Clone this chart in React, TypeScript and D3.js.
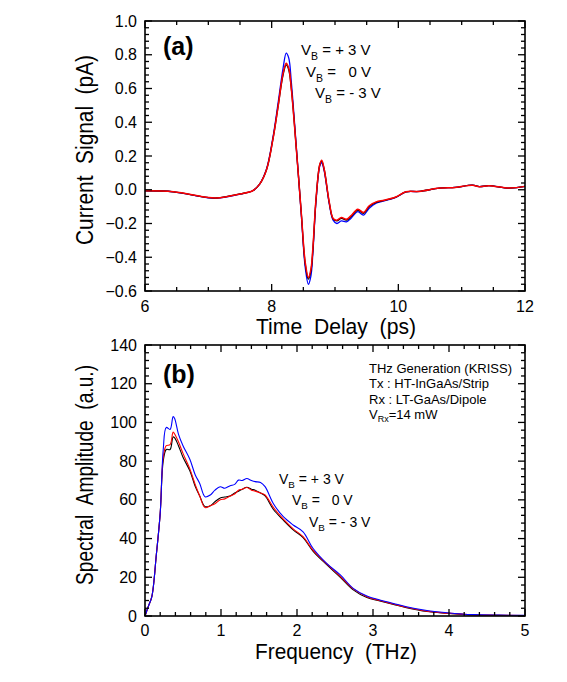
import React from "react";
import * as d3 from "d3";

// ---------- Panel (a): time-domain waveform ----------
const timePs = [6.0, 6.45, 6.97, 7.13, 7.5, 7.7, 7.81, 7.92, 8.02, 8.1, 8.18, 8.23, 8.27, 8.31, 8.39, 8.47, 8.53, 8.58, 8.62, 8.65, 8.7, 8.76, 8.79, 8.83, 8.91, 8.97, 9.03, 9.1, 9.18, 9.25, 9.36, 9.45, 9.54, 9.65, 9.78, 9.96, 10.12, 10.33, 10.65, 10.9, 11.17, 11.28, 11.43, 11.75, 12.0];
const currentPlus3 = [-0.006, -0.012, -0.046, -0.05, -0.026, -0.006, 0.034, 0.125, 0.31, 0.51, 0.72, 0.81, 0.78, 0.64, 0.25, -0.16, -0.46, -0.56, -0.51, -0.38, -0.07, 0.14, 0.16, 0.11, -0.085, -0.18, -0.2, -0.185, -0.19, -0.17, -0.13, -0.15, -0.11, -0.08, -0.066, -0.046, -0.013, -0.01, 0.01, 0.014, 0.027, 0.018, 0.024, 0.01, 0.02];
const current0 = [-0.006, -0.012, -0.045, -0.049, -0.025, -0.006, 0.033, 0.12, 0.3, 0.49, 0.68, 0.74, 0.71, 0.6, 0.24, -0.15, -0.44, -0.53, -0.48, -0.36, -0.06, 0.15, 0.17, 0.12, -0.078, -0.172, -0.185, -0.17, -0.18, -0.16, -0.12, -0.14, -0.1, -0.075, -0.063, -0.044, -0.012, -0.01, 0.01, 0.014, 0.027, 0.018, 0.024, 0.01, 0.02];
const currentMinus3 = [-0.006, -0.012, -0.045, -0.049, -0.025, -0.006, 0.033, 0.12, 0.3, 0.49, 0.69, 0.75, 0.72, 0.6, 0.24, -0.15, -0.43, -0.52, -0.47, -0.35, -0.055, 0.15, 0.175, 0.12, -0.075, -0.17, -0.18, -0.165, -0.175, -0.155, -0.115, -0.135, -0.095, -0.072, -0.062, -0.043, -0.012, -0.01, 0.01, 0.014, 0.027, 0.018, 0.024, 0.01, 0.02];
const timeTicks = [6, 8, 10, 12];
const currentTicks = [1.0, 0.8, 0.6, 0.4, 0.2, 0.0, -0.2, -0.4, -0.6];

// ---------- Panel (b): spectra ----------
const freqTHz = [0, 0.044, 0.09, 0.15, 0.2, 0.24, 0.28, 0.33, 0.37, 0.39, 0.44, 0.5, 0.59, 0.66, 0.72, 0.79, 0.86, 0.92, 0.99, 1.05, 1.12, 1.18, 1.23, 1.28, 1.34, 1.4, 1.45, 1.52, 1.58, 1.69, 1.82, 1.95, 2.08, 2.21, 2.39, 2.57, 2.74, 2.92, 3.09, 3.27, 3.44, 3.71, 3.97, 4.32, 4.65, 5.0];
const ampPlus3 = [0, 5, 10, 32, 53, 86, 97.4, 96.4, 103, 102, 94, 88, 81, 73, 68.5, 61.6, 62.5, 65, 66.8, 66, 67.3, 68, 70.2, 70, 71, 70, 69.4, 69, 66.8, 58, 51.3, 47, 43.5, 35, 27.2, 21.2, 14.3, 10.3, 8.3, 6.5, 4.8, 2.8, 1.7, 0.7, 0.5, 0.3];
const amp0 = [0, 5, 10, 32, 53, 82, 88, 88.5, 95, 94, 90, 84, 76, 68, 62, 56, 57, 58, 60, 60.5, 62, 63, 65, 65.5, 66.4, 65, 64.5, 63.5, 62.5, 56, 50, 45, 41, 34, 27, 20.5, 14, 10, 8, 6.2, 4.5, 2.5, 1.5, 0.6, 0.4, 0.2];
const ampMinus3 = [0, 5, 10, 32, 53, 80, 86, 86, 92.5, 92, 88, 82, 75, 67, 62, 56.5, 57, 59, 61, 61.5, 62, 63.5, 64.5, 65.5, 66.5, 65.5, 65, 63.5, 62, 55, 49.5, 44.5, 40.5, 33.5, 26.5, 20, 13.5, 9.5, 7.8, 6, 4.3, 2.3, 1.4, 0.5, 0.3, 0.2];
const freqTicks = [0, 1, 2, 3, 4, 5];
const ampTicks = [0, 20, 40, 60, 80, 100, 120, 140];

const legendLabels = ["+ 3 V", "  0 V", "- 3 V"];
const infoLines = ["THz Generation (KRISS)", "Tx : HT-InGaAs/Strip", "Rx : LT-GaAs/Dipole"];

const FONT = "'Liberation Sans', Arial, sans-serif";

type FrameProps = {
  x: d3.ScaleLinear<number, number>;
  y: d3.ScaleLinear<number, number>;
  xMinorStep: number;
  yMinorStep: number;
  xMajor: number[];
  yMajor: number[];
  yFmt: (v: number) => string;
  xLabelY: number;
};

function Frame({ x, y, xMinorStep, yMinorStep, xMajor, yMajor, yFmt, xLabelY }: FrameProps) {
  const [x0, x1] = x.domain();
  const [y0, y1] = y.domain();
  const xMinor = d3.range(x0, x1 + 1e-9, xMinorStep);
  const yMinor = d3.range(y0, y1 + 1e-9, yMinorStep);
  const L = x.range()[0], R = x.range()[1], B = y.range()[0], T = y.range()[1];
  const isMajor = (v: number, arr: number[]) => arr.some((a) => Math.abs(a - v) < 1e-6);
  const maj = 7, min = 4;
  return (
    <g>
      {xMinor.map((v, i) => {
        const len = isMajor(v, xMajor) ? maj : min;
        const px = x(v);
        return (
          <g key={"xt" + i}>
            <line x1={px} x2={px} y1={B} y2={B - len} stroke="#000" strokeWidth={1.3} />
            <line x1={px} x2={px} y1={T} y2={T + len} stroke="#000" strokeWidth={1.3} />
          </g>
        );
      })}
      {yMinor.map((v, i) => {
        const len = isMajor(v, yMajor) ? maj : min;
        const py = y(v);
        return (
          <g key={"yt" + i}>
            <line x1={L} x2={L + len} y1={py} y2={py} stroke="#000" strokeWidth={1.3} />
            <line x1={R} x2={R - len} y1={py} y2={py} stroke="#000" strokeWidth={1.3} />
          </g>
        );
      })}
      <rect x={L} y={T} width={R - L} height={B - T} fill="none" stroke="#000" strokeWidth={1.6} />
      {xMajor.map((v) => (
        <text key={"xl" + v} x={x(v)} y={xLabelY} textAnchor="middle" fontSize={16} fontFamily={FONT}>
          {String(v)}
        </text>
      ))}
      {yMajor.map((v) => (
        <text key={"yl" + v} x={L - 8} y={y(v) + 5.5} textAnchor="end" fontSize={16} fontFamily={FONT}>
          {yFmt(v)}
        </text>
      ))}
    </g>
  );
}

function VB({ x, y, label, size }: { x: number; y: number; label: string; size: number }) {
  return (
    <text x={x} y={y} fontSize={size} fontFamily={FONT} style={{ whiteSpace: "pre" }}>
      V
      <tspan fontSize={size * 0.7} dy={size * 0.3}>B</tspan>
      <tspan dy={-size * 0.3}>{" = " + label}</tspan>
    </text>
  );
}

export default function App() {
  const L = 145, R = 525;
  const xa = d3.scaleLinear().domain([6, 12]).range([L, R]);
  const ya = d3.scaleLinear().domain([-0.6, 1.0]).range([291, 21]);
  const xb = d3.scaleLinear().domain([0, 5]).range([L, R]);
  const yb = d3.scaleLinear().domain([0, 140]).range([616, 345]);

  const lineA = (vals: number[]) =>
    d3.line<number>().x((_, i) => xa(timePs[i])).y((d) => ya(d)).curve(d3.curveCatmullRom.alpha(0.5))(vals) || "";
  const lineB = (vals: number[]) =>
    d3.line<number>().x((_, i) => xb(freqTHz[i])).y((d) => yb(d)).curve(d3.curveCatmullRom.alpha(0.5))(vals) || "";

  return (
    <svg width={567} height={682} style={{ position: "absolute", left: 0, top: 0, background: "#fff" }}>
      <rect width={567} height={682} fill="#fff" />
      {/* Panel (a) */}
      <path d={lineA(currentPlus3)} fill="none" stroke="#0000ff" strokeWidth={1.3} />
      <path d={lineA(current0)} fill="none" stroke="#000" strokeWidth={1.3} />
      <path d={lineA(currentMinus3)} fill="none" stroke="#ff0000" strokeWidth={1.5} />
      <Frame x={xa} y={ya} xMinorStep={0.5} yMinorStep={0.04} xMajor={timeTicks} yMajor={currentTicks}
        yFmt={(v) => d3.format(".1f")(v)} xLabelY={312} />
      <text x={163} y={55} fontSize={25} fontWeight="bold" fontFamily={FONT}>(a)</text>
      <VB x={301} y={55} label={legendLabels[0]} size={15} />
      <VB x={306} y={77} label={legendLabels[1]} size={15} />
      <VB x={315} y={98} label={legendLabels[2]} size={15} />
      <text x={336} y={334} textAnchor="middle" fontSize={22} fontFamily={FONT} textLength={160}
        lengthAdjust="spacingAndGlyphs" style={{ whiteSpace: "pre" }}>Time  Delay  (ps)</text>
      <text transform="translate(93,150) rotate(-90)" textAnchor="middle" fontSize={23} fontFamily={FONT}
        textLength={190} lengthAdjust="spacingAndGlyphs" style={{ whiteSpace: "pre" }}>Current  Signal  (pA)</text>

      {/* Panel (b) */}
      <path d={lineB(ampMinus3)} fill="none" stroke="#000" strokeWidth={1.1} />
      <path d={lineB(amp0)} fill="none" stroke="#ff0000" strokeWidth={1.1} />
      <path d={lineB(ampPlus3)} fill="none" stroke="#0000ff" strokeWidth={1.1} />
      <Frame x={xb} y={yb} xMinorStep={0.2} yMinorStep={4} xMajor={freqTicks} yMajor={ampTicks}
        yFmt={(v) => String(v)} xLabelY={636} />
      <text x={163} y={383} fontSize={25} fontWeight="bold" fontFamily={FONT}>(b)</text>
      {infoLines.map((t, i) => (
        <text key={t} x={369} y={373 + i * 15.3} fontSize={13} fontFamily={FONT}>{t}</text>
      ))}
      <text x={369} y={419} fontSize={13} fontFamily={FONT}>
        V<tspan fontSize={9} dy={3}>Rx</tspan><tspan dy={-3}>=14 mW</tspan>
      </text>
      <VB x={279} y={484} label={legendLabels[0]} size={14} />
      <VB x={292} y={505} label={legendLabels[1]} size={14} />
      <VB x={309} y={527} label={legendLabels[2]} size={14} />
      <text x={336} y={659} textAnchor="middle" fontSize={22} fontFamily={FONT} textLength={162}
        lengthAdjust="spacingAndGlyphs" style={{ whiteSpace: "pre" }}>Frequency  (THz)</text>
      <text transform="translate(93,475) rotate(-90)" textAnchor="middle" fontSize={23} fontFamily={FONT}
        textLength={220} lengthAdjust="spacingAndGlyphs" style={{ whiteSpace: "pre" }}>Spectral  Amplitude  (a.u.)</text>
    </svg>
  );
}
